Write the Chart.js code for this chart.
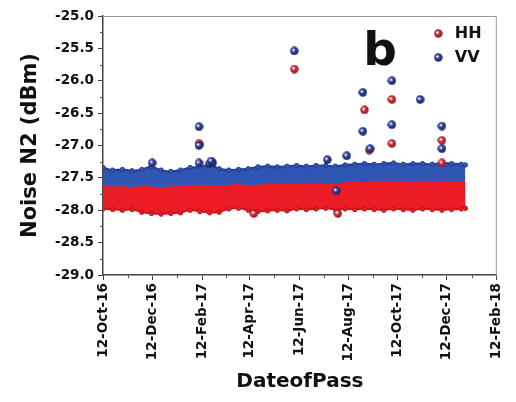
<!DOCTYPE html>
<html>
<head>
<meta charset="utf-8">
<script src="https://cdn.jsdelivr.net/npm/chart.js@4.4.0/dist/chart.umd.min.js"></script>
<style>
html, body { margin: 0; padding: 0; background: #fff; }
#wrap { width: 516px; height: 402px; }
</style>
</head>
<body>
<div id="wrap"><canvas id="noise"></canvas></div>
<script>
// days since 12-Oct-16
const bandDays = [0, 12, 24, 36, 48, 60, 72, 84, 96, 108, 120, 132, 144, 156, 168, 180, 192, 204, 216, 228, 240, 252, 264, 276, 288, 300, 312, 324, 336, 348, 360, 372, 384, 396, 408, 420, 432, 444, 449];
const vvTop = [-27.34, -27.38, -27.37, -27.39, -27.37, -27.33, -27.38, -27.40, -27.38, -27.34, -27.33, -27.30, -27.36, -27.38, -27.37, -27.36, -27.33, -27.32, -27.33, -27.32, -27.31, -27.32, -27.31, -27.31, -27.32, -27.30, -27.29, -27.28, -27.29, -27.28, -27.27, -27.29, -27.28, -27.28, -27.29, -27.27, -27.28, -27.29, -27.30];
const hhTop = [-27.63, -27.65, -27.64, -27.66, -27.64, -27.65, -27.66, -27.65, -27.64, -27.63, -27.62, -27.63, -27.64, -27.62, -27.61, -27.63, -27.62, -27.61, -27.60, -27.61, -27.60, -27.60, -27.59, -27.60, -27.60, -27.58, -27.57, -27.58, -27.57, -27.56, -27.57, -27.56, -27.57, -27.56, -27.57, -27.56, -27.57, -27.57, -27.58];
const hhBottom = [-27.98, -27.99, -28.00, -27.99, -28.03, -28.05, -28.06, -28.05, -28.04, -28.00, -28.02, -28.04, -28.03, -27.98, -27.97, -28.00, -28.02, -28.01, -28.00, -28.01, -27.98, -27.99, -27.98, -27.97, -27.99, -27.98, -27.99, -27.98, -27.99, -28.00, -27.98, -27.99, -28.00, -27.98, -27.99, -28.00, -27.99, -27.98, -27.97];

// isolated passes
const hhDays = [119, 237, 187, 291, 324, 330, 358, 358, 420, 420];
const hhValues = [-26.97, -25.82, -28.05, -28.05, -26.45, -27.07, -26.29, -26.97, -26.92, -27.27];
const vvDays = [61, 119, 119, 119, 132, 136, 134, 237, 289, 322, 322, 331, 358, 358, 393, 420, 420, 278, 302];
const vvValues = [-27.27, -26.71, -27.00, -27.27, -27.28, -27.27, -27.24, -25.54, -27.70, -26.18, -26.78, -27.05, -26.00, -26.68, -26.29, -26.70, -27.05, -27.22, -27.16];

const tickDays = [0, 61, 123, 182, 243, 304, 365, 426, 488];
const tickLabels = ['12-Oct-16', '12-Dec-16', '12-Feb-17', '12-Apr-17', '12-Jun-17', '12-Aug-17', '12-Oct-17', '12-Dec-17', '12-Feb-18'];

const font = 'DejaVu Sans';
const red = '#ec1c24', redDark = '#b8141c';
const blue = '#2f55b5', blueDark = '#223f95';

function ball(color, edge) {
    const c = document.createElement('canvas');
    c.width = 9; c.height = 9;
    const g = c.getContext('2d');
    const grad = g.createRadialGradient(3.3, 3.3, 0.5, 4.5, 4.5, 4.5);
    grad.addColorStop(0, '#ffffff');
    grad.addColorStop(0.35, color);
    grad.addColorStop(1, edge);
    g.fillStyle = grad;
    g.beginPath(); g.arc(4.5, 4.5, 4.2, 0, Math.PI * 2); g.fill();
    return c;
}
const hhBall = ball('#d5343c', '#8a1218');
const vvBall = ball('#34429c', '#141c5c');

const pts = (xs, ys) => xs.map((d, i) => ({x: d, y: ys[i]}));

const extras = {
    id: 'extras',
    afterDraw(chart) {
        const {ctx, chartArea: a, scales: {x, y}} = chart;
        ctx.save();
        // frame top/right
        ctx.strokeStyle = '#9a9a9a';
        ctx.lineWidth = 1;
        ctx.beginPath();
        ctx.moveTo(a.left, a.top + 0.5);
        ctx.lineTo(a.right - 0.5, a.top + 0.5);
        ctx.lineTo(a.right - 0.5, a.bottom);
        ctx.stroke();
        // minor ticks
        ctx.strokeStyle = '#555';
        ctx.lineWidth = 1;
        ctx.beginPath();
        for (let i = 0; i < x.ticks.length - 1; i++) {
            const px = Math.round(x.getPixelForValue((x.ticks[i].value + x.ticks[i + 1].value) / 2)) + 0.5;
            ctx.moveTo(px, a.bottom); ctx.lineTo(px, a.bottom + 3);
        }
        for (let i = 0; i < y.ticks.length - 1; i++) {
            const py = Math.round(y.getPixelForValue((y.ticks[i].value + y.ticks[i + 1].value) / 2)) + 0.5;
            ctx.moveTo(a.left, py); ctx.lineTo(a.left - 3, py);
        }
        ctx.stroke();
        // legend
        ctx.font = 'bold 16px ' + font;
        ctx.fillStyle = '#111';
        ctx.textBaseline = 'middle';
        ctx.drawImage(hhBall, a.right - 63, a.top + 13);
        ctx.fillText('HH', a.right - 42, a.top + 18);
        ctx.drawImage(vvBall, a.right - 63, a.top + 37);
        ctx.fillText('VV', a.right - 42, a.top + 42);
        // panel letter
        ctx.font = 'bold 47px ' + font;
        ctx.textBaseline = 'alphabetic';
        ctx.textAlign = 'center';
        ctx.fillText('b', 380, 65);
        ctx.restore();
    }
};

const ctx = document.getElementById('noise').getContext('2d');
const noiseChart = new Chart(ctx, {
    type: 'scatter',
    data: {
        datasets: [
            {
                label: 'HH',
                data: pts(hhDays, hhValues),
                pointStyle: hhBall,
                order: 1
            },
            {
                label: 'VV',
                data: pts(vvDays, vvValues),
                pointStyle: vvBall,
                order: 0
            },
            {
                label: 'VV band',
                type: 'line',
                data: pts(bandDays, vvTop),
                borderColor: blueDark,
                borderWidth: 2,
                backgroundColor: blue,
                pointRadius: 2.2,
                pointBackgroundColor: blue,
                pointBorderColor: blueDark,
                pointBorderWidth: 1,
                fill: 4,
                tension: 0.3,
                order: 5
            },
            {
                label: 'HH band',
                type: 'line',
                data: pts(bandDays, hhTop),
                borderColor: red,
                borderWidth: 2,
                backgroundColor: red,
                pointRadius: 0,
                fill: 4,
                tension: 0.3,
                order: 3
            },
            {
                label: 'HH bottom',
                type: 'line',
                data: pts(bandDays, hhBottom),
                borderColor: redDark,
                borderWidth: 1.5,
                pointRadius: 2.2,
                pointBackgroundColor: red,
                pointBorderColor: redDark,
                pointBorderWidth: 1,
                fill: false,
                tension: 0.3,
                order: 2
            }
        ]
    },
    options: {
        responsive: true,
        maintainAspectRatio: false,
        animation: false,
        layout: {
            padding: {left: 18, right: 11, top: 16, bottom: 4}
        },
        plugins: {
            legend: {display: false},
            tooltip: {enabled: false}
        },
        scales: {
            x: {
                type: 'linear',
                min: 0,
                max: 488,
                afterBuildTicks: scale => {
                    scale.ticks = tickDays.map(v => ({value: v}));
                },
                afterFit: scale => {
                    scale.height = 123;
                },
                ticks: {
                    autoSkip: false,
                    minRotation: 90,
                    maxRotation: 90,
                    padding: 3,
                    color: '#111',
                    font: {family: font, size: 13.5, weight: 'bold'},
                    callback: (value, index) => tickLabels[index]
                },
                grid: {drawOnChartArea: false, drawTicks: true, tickLength: 5, color: '#444'},
                border: {color: '#444', width: 1.5},
                title: {
                    display: true,
                    text: 'DateofPass',
                    color: '#111',
                    padding: {top: 0, bottom: 4},
                    font: {family: font, size: 20, weight: 'bold'}
                }
            },
            y: {
                min: -29,
                max: -25,
                afterFit: scale => {
                    scale.width = 85;
                },
                ticks: {
                    stepSize: 0.5,
                    padding: 4,
                    color: '#111',
                    font: {family: font, size: 13.5, weight: 'bold'},
                    callback: value => value.toFixed(1)
                },
                grid: {drawOnChartArea: false, drawTicks: true, tickLength: 5, color: '#444'},
                border: {color: '#444', width: 1.5},
                title: {
                    display: true,
                    text: 'Noise N2 (dBm)',
                    color: '#111',
                    padding: 0,
                    font: {family: font, size: 21, weight: 'bold'}
                }
            }
        }
    },
    plugins: [extras]
});
</script>
</body>
</html>
